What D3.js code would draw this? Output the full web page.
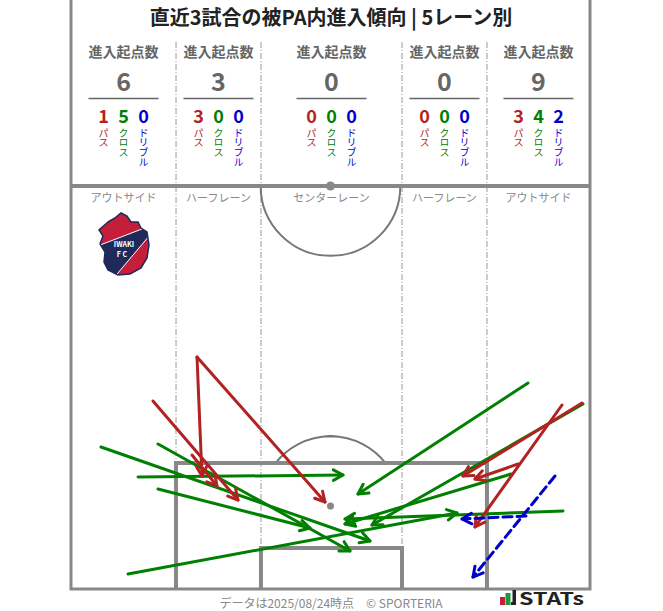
<!DOCTYPE html>
<html><head><meta charset="utf-8">
<script src="https://cdn.jsdelivr.net/npm/d3@7"></script>
<style>
body{margin:0;background:#fff}
svg{display:block}
text{font-family:"Noto Sans CJK JP","Noto Sans",sans-serif}
</style>
</head><body>
<svg id="c" width="663" height="611"></svg>
<script>
// ---------- data ----------
const title = "直近3試合の被PA内進入傾向 | 5レーン別";
const headerLabel = "進入起点数";
const lanes = ["アウトサイド","ハーフレーン","センターレーン","ハーフレーン","アウトサイド"];
const laneEdges = [0, 13.76, 24.89, 43.37, 54.5, 68];   // metres across pitch
const entryTotals = [6, 3, 0, 0, 9];
const passCounts = [1, 3, 0, 0, 3];
const crossCounts = [5, 0, 0, 0, 4];
const dribbleCounts = [0, 0, 0, 0, 2];
const typeLabels = ["パス", "クロス", "ドリブル"];
// arrows: [x1, y1, x2, y2]; x in metres from left touchline, y in metres from goal line
const passes = [
  [10.74, 24.49, 21.88, 11.59],
  [16.51, 30.22, 17.16, 14.72],
  [16.51, 30.22, 33.28, 11.33],
  [15.86, 17.46, 19.13, 13.42],
  [66.95, 24.23, 51.36, 14.72],
  [64.33, 23.97, 52.93, 8.08],
  [58.57, 16.28, 52.93, 14.33]
];
const crosses = [
  [3.93, 18.50, 39.17, 6.25],
  [8.78, 14.59, 35.64, 14.85],
  [11.40, 18.89, 36.55, 4.95],
  [11.40, 13.03, 31.31, 7.95],
  [7.47, 1.95, 50.57, 9.90],
  [59.88, 26.84, 37.60, 12.38],
  [67.08, 24.10, 39.44, 8.34],
  [57.65, 14.98, 35.90, 8.47],
  [64.46, 10.16, 35.90, 9.12]
];
const dribbles = [
  [63.41, 14.72, 52.67, 1.56],
  [59.61, 9.51, 51.23, 9.12]
];
const footerText = "データは2025/08/24時点　© SPORTERIA";

// ---------- setup ----------
const svg = d3.select("#c");
const x = d3.scaleLinear().domain([0, 68]).range([71, 590]);
const y = d3.scaleLinear().domain([0, 52.5]).range([589, 186]);
const colors = {pass: "#b22222", cross: "#008000", dribble: "#0000cd"};
const typeColors = [colors.pass, colors.cross, colors.dribble];
const lineGray = "#888";
const laneCenters = d3.range(5).map(i => x((laneEdges[i] + laneEdges[i+1]) / 2));

// title
svg.append("text").attr("x", 331).attr("y", 25).attr("text-anchor", "middle")
  .attr("font-size", 20).attr("font-weight", "bold").attr("fill", "#222").text(title);

// header separators
const dash = "6,2,1,2";
laneEdges.slice(1, 5).forEach(e => {
  svg.append("line").attr("x1", x(e)).attr("x2", x(e)).attr("y1", 42).attr("y2", 186)
    .attr("stroke", "#999").attr("stroke-width", 1).attr("stroke-dasharray", dash);
});

// header columns
laneCenters.forEach((cx, i) => {
  const g = svg.append("g");
  g.append("text").attr("x", cx).attr("y", 57).attr("text-anchor", "middle")
    .attr("font-size", 14).attr("font-weight", "bold").attr("fill", "#666").text(headerLabel);
  g.append("text").attr("x", cx).attr("y", 91).attr("text-anchor", "middle")
    .attr("font-size", 25).attr("font-weight", "bold").attr("fill", "#666").text(entryTotals[i]);
  g.append("line").attr("x1", cx - 35).attr("x2", cx + 35).attr("y1", 98.5).attr("y2", 98.5)
    .attr("stroke", "#666").attr("stroke-width", 1.5);
  const vals = [passCounts[i], crossCounts[i], dribbleCounts[i]];
  vals.forEach((v, k) => {
    const tx = cx + (k - 1) * 20;
    g.append("text").attr("x", tx).attr("y", 123).attr("text-anchor", "middle")
      .attr("font-size", 18).attr("font-weight", "bold").attr("fill", typeColors[k]).text(v);
    g.append("text").attr("x", tx).attr("y", 128)
      .attr("writing-mode", "vertical-rl").attr("text-orientation", "upright")
      .attr("letter-spacing", -0.4)
      .attr("font-size", 10).attr("fill", typeColors[k]).text(typeLabels[k]);
  });
});

// ---------- pitch ----------
const P = svg.append("g");
[[laneEdges[1], 16.4], [laneEdges[2], 5.34], [laneEdges[3], 5.34], [laneEdges[4], 16.4]].forEach(([e, stop]) => {
  P.append("line").attr("x1", x(e)).attr("x2", x(e)).attr("y1", y(52.5)).attr("y2", y(stop))
    .attr("stroke", "#999").attr("stroke-width", 1).attr("stroke-dasharray", dash);
});
const r = x(9.15) - x(0);
P.append("path")
  .attr("d", d3.arc()({innerRadius: r, outerRadius: r, startAngle: Math.PI/2, endAngle: 3*Math.PI/2}))
  .attr("transform", `translate(${x(34)},${y(52.5)})`)
  .attr("fill", "none").attr("stroke", "#777").attr("stroke-width", 2);
const spotY = y(10.8), boxY = y(16.4);
const a0 = Math.acos((spotY - boxY) / r);
P.append("path")
  .attr("d", d3.arc()({innerRadius: r, outerRadius: r, startAngle: -a0, endAngle: a0}))
  .attr("transform", `translate(${x(34)},${spotY})`)
  .attr("fill", "none").attr("stroke", "#777").attr("stroke-width", 2);
P.append("path")
  .attr("d", `M${x(laneEdges[1])},${y(0)}V${boxY}H${x(laneEdges[4])}V${y(0)}`)
  .attr("fill", "none").attr("stroke", lineGray).attr("stroke-width", 4);
P.append("path")
  .attr("d", `M${x(laneEdges[2])},${y(0)}V${y(5.34)}H${x(laneEdges[3])}V${y(0)}`)
  .attr("fill", "none").attr("stroke", lineGray).attr("stroke-width", 4);
P.append("path")
  .attr("d", `M${x(0)},0V${y(0)}H${x(68)}V0`)
  .attr("fill", "none").attr("stroke", lineGray).attr("stroke-width", 3);
P.append("line").attr("x1", x(0)).attr("x2", x(68)).attr("y1", y(52.5)).attr("y2", y(52.5))
  .attr("stroke", lineGray).attr("stroke-width", 4);
P.append("circle").attr("cx", x(34)).attr("cy", y(52.5)).attr("r", 4.5).attr("fill", lineGray);
P.append("circle").attr("cx", x(34)).attr("cy", spotY).attr("r", 3.5).attr("fill", lineGray);

laneCenters.forEach((cx, i) => {
  svg.append("text").attr("x", cx).attr("y", 202).attr("text-anchor", "middle")
    .attr("font-size", 11).attr("fill", "#888").text(lanes[i]);
});

// ---------- logo ----------
const L = svg.append("g");
const shield = "M108,222 L115,218 L121,213 L127,216 L131,222 L138,222 L141,228 L147,232 L149,245 L147,258 L141,268 L130,274 L118,275 L108,270 L104,262 L105,252 L100,244 L103,236 L99,230 Z";
L.append("clipPath").attr("id", "sh").append("path").attr("d", shield);
L.append("path").attr("d", shield).attr("fill", "#c41e3a");
L.append("path").attr("d", "M95,247 L155,224 L155,229 L112,280 L95,280 Z")
  .attr("fill", "#1f2a5a").attr("clip-path", "url(#sh)");
L.append("path").attr("d", "M95,247 L155,224 M155,229 L112,280").attr("stroke", "#fff").attr("stroke-width", 1)
  .attr("clip-path", "url(#sh)");
L.append("path").attr("d", shield).attr("fill", "none").attr("stroke", "#1f2a5a").attr("stroke-width", 1.5);
L.append("text").attr("x", 124).attr("y", 247).attr("text-anchor", "middle").attr("font-size", 7)
  .attr("font-weight", "bold").attr("fill", "#fff").attr("font-family", "DejaVu Serif").text("IWAKI");
L.append("text").attr("x", 122).attr("y", 257).attr("text-anchor", "middle").attr("font-size", 7)
  .attr("font-weight", "bold").attr("fill", "#fff").attr("font-family", "DejaVu Serif").text("F C");

// ---------- arrows ----------
function drawArrows(data, color, dashed) {
  const g = svg.append("g");
  data.forEach(([x1, y1, x2, y2]) => {
    const X1 = x(x1), Y1 = y(y1), X2 = x(x2), Y2 = y(y2);
    g.append("line").attr("x1", X1).attr("y1", Y1).attr("x2", X2).attr("y2", Y2)
      .attr("stroke", color).attr("stroke-width", 3).attr("stroke-linecap", "round")
      .attr("stroke-dasharray", dashed ? "9,5" : null);
    const ang = Math.atan2(Y2 - Y1, X2 - X1), len = 11, sp = 0.5;
    const p1 = [X2 - len * Math.cos(ang - sp), Y2 - len * Math.sin(ang - sp)];
    const p2 = [X2 - len * Math.cos(ang + sp), Y2 - len * Math.sin(ang + sp)];
    g.append("path").attr("d", `M${p1}L${X2},${Y2}L${p2}`)
      .attr("fill", "none").attr("stroke", color).attr("stroke-width", 3)
      .attr("stroke-linecap", "round").attr("stroke-linejoin", "round");
  });
}
drawArrows(crosses, colors.cross, false);
drawArrows(passes, colors.pass, false);
drawArrows(dribbles, colors.dribble, true);

// ---------- footer ----------
svg.append("text").attr("x", 331).attr("y", 608).attr("text-anchor", "middle")
  .attr("font-size", 12).attr("fill", "#888").text(footerText);
const S = svg.append("g");
S.append("rect").attr("x", 500).attr("y", 597).attr("width", 5).attr("height", 8).attr("fill", "#c41e3a");
S.append("rect").attr("x", 505.5).attr("y", 593).attr("width", 5).attr("height", 12).attr("fill", "#1a9a3a");
S.append("path").attr("d", "M511,605 H516 V590 H512.5 V602 H511 Z").attr("fill", "#222");
S.append("text").attr("x", 519).attr("y", 605).attr("font-size", 17).attr("font-weight", "bold")
  .attr("fill", "#222").attr("textLength", 65).attr("lengthAdjust", "spacingAndGlyphs")
  .attr("font-family", "DejaVu Sans, sans-serif").text("STATs");
</script>
</body></html>
